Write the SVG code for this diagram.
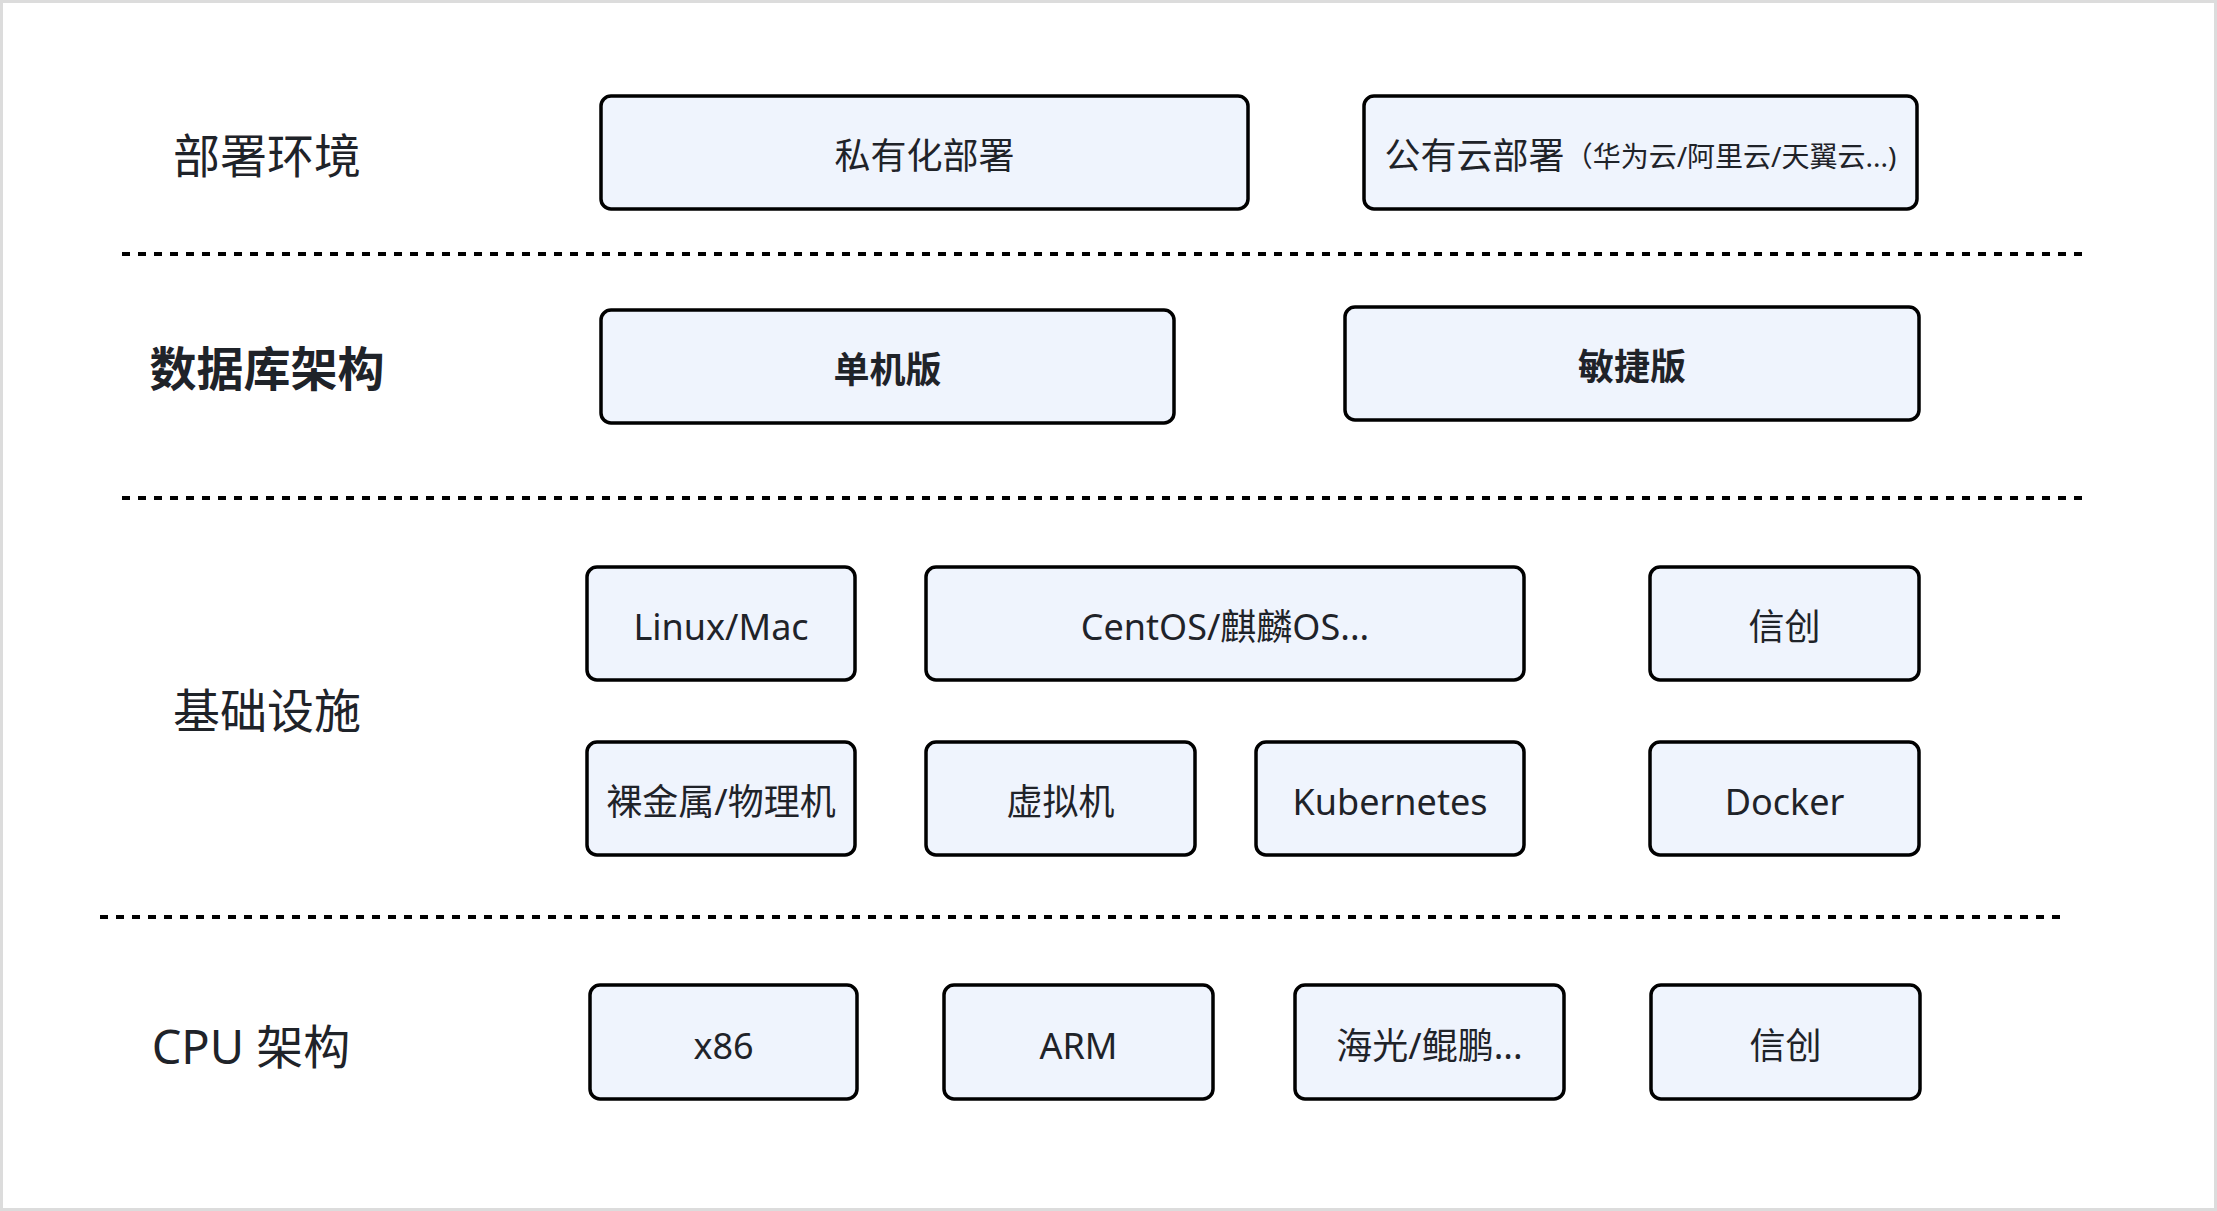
<svg xmlns="http://www.w3.org/2000/svg" width="2217" height="1211" viewBox="0 0 2217 1211">
<style>
.bg{fill:#ffffff;stroke:#dcdcdc;stroke-width:3}
.box{fill:#eff4fd;stroke:#000000;stroke-width:3.5}
.t{font-family:"Noto Sans","Noto Sans CJK SC",sans-serif;font-size:36px;fill:#1f2329;text-anchor:middle;dominant-baseline:central}
.b{font-weight:bold}
.lbl{font-family:"Noto Sans","Noto Sans CJK SC",sans-serif;font-size:47px;fill:#1f2329;text-anchor:middle;dominant-baseline:central}
.sm{font-size:28px}
.dash{stroke:#000000;stroke-width:4;stroke-dasharray:8 8;fill:none}
</style>
<rect class="bg" x="1.5" y="1.5" width="2214" height="1208"/>
<g id="connectors">
<line class="dash" x1="122" y1="254" x2="2082" y2="254"/>
<line class="dash" x1="122" y1="498" x2="2082" y2="498"/>
<line class="dash" x1="100" y1="917" x2="2060" y2="917"/>
</g>
<g id="label-deploy"><text class="lbl" x="267" y="155">部署环境</text></g>
<g id="label-db"><text class="lbl b" x="267" y="368">数据库架构</text></g>
<g id="label-infra"><text class="lbl" x="267" y="710">基础设施</text></g>
<g id="label-cpu"><text class="lbl" x="251" y="1046">CPU 架构</text></g>

<g id="node-private"><rect class="box" x="601" y="96" width="647" height="113" rx="10"/><text class="t" x="924.5" y="155.5">私有化部署</text></g>
<g id="node-public"><rect class="box" x="1364" y="96" width="553" height="113" rx="10"/><text class="t" x="1640.5" y="155.5">公有云部署<tspan class="sm">（华为云/阿里云/天翼云...)</tspan></text></g>

<g id="node-single"><rect class="box" x="601" y="310" width="573" height="113" rx="10"/><text class="t b" x="887.5" y="369.5">单机版</text></g>
<g id="node-agile"><rect class="box" x="1345" y="307" width="574" height="113" rx="10"/><text class="t b" x="1632" y="366.5">敏捷版</text></g>

<g id="node-linux"><rect class="box" x="587" y="567" width="268" height="113" rx="10"/><text class="t" x="721" y="626.5">Linux/Mac</text></g>
<g id="node-centos"><rect class="box" x="926" y="567" width="598" height="113" rx="10"/><text class="t" x="1225" y="626.5">CentOS/麒麟OS...</text></g>
<g id="node-xinchuang-os"><rect class="box" x="1650" y="567" width="269" height="113" rx="10"/><text class="t" x="1784.5" y="626.5">信创</text></g>

<g id="node-baremetal"><rect class="box" x="587" y="742" width="268" height="113" rx="10"/><text class="t" x="721" y="801.5">裸金属/物理机</text></g>
<g id="node-vm"><rect class="box" x="926" y="742" width="269" height="113" rx="10"/><text class="t" x="1060.5" y="801.5">虚拟机</text></g>
<g id="node-k8s"><rect class="box" x="1256" y="742" width="268" height="113" rx="10"/><text class="t" x="1390" y="801.5">Kubernetes</text></g>
<g id="node-docker"><rect class="box" x="1650" y="742" width="269" height="113" rx="10"/><text class="t" x="1784.5" y="801.5">Docker</text></g>

<g id="node-x86"><rect class="box" x="590" y="985" width="267" height="114" rx="10"/><text class="t" x="723.5" y="1045">x86</text></g>
<g id="node-arm"><rect class="box" x="944" y="985" width="269" height="114" rx="10"/><text class="t" x="1078.5" y="1045">ARM</text></g>
<g id="node-hygon"><rect class="box" x="1295" y="985" width="269" height="114" rx="10"/><text class="t" x="1429.5" y="1045">海光/鲲鹏...</text></g>
<g id="node-xinchuang-cpu"><rect class="box" x="1651" y="985" width="269" height="114" rx="10"/><text class="t" x="1785.5" y="1045">信创</text></g>
</svg>
